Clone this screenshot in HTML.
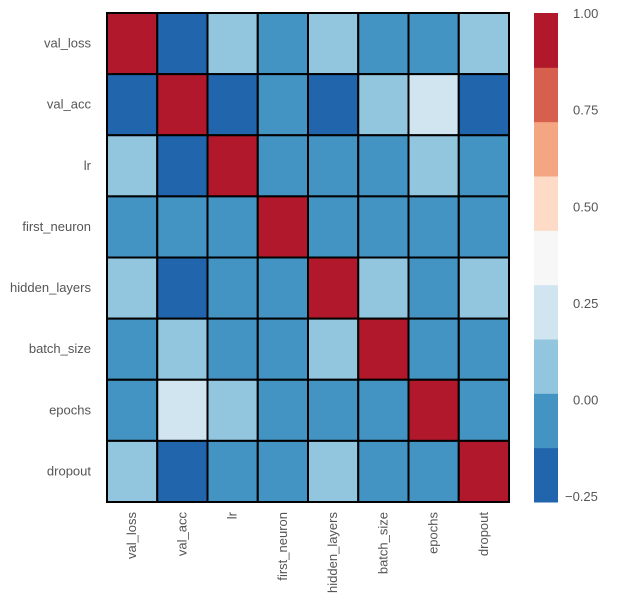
<!DOCTYPE html>
<html><head><meta charset="utf-8"><style>
body{margin:0;background:#fff;}
svg text{font-family:"Liberation Sans","DejaVu Sans",sans-serif;font-size:13px;fill:#555;}
</style></head><body>
<svg id="chart" width="617" height="601" xmlns="http://www.w3.org/2000/svg">
<g id="cells"></g>
<g id="labels"></g>
<g id="cbar"></g>
</svg>
<script>
const categories = ["val_loss","val_acc","lr","first_neuron","hidden_layers","batch_size","epochs","dropout"];
const row0 = [1.00,-0.20,0.08,-0.05,0.08,-0.05,-0.05,0.08];
const row1 = [-0.20,1.00,-0.20,-0.05,-0.20,0.08,0.22,-0.20];
const row2 = [0.08,-0.20,1.00,-0.05,-0.05,-0.05,0.08,-0.05];
const row3 = [-0.05,-0.05,-0.05,1.00,-0.05,-0.05,-0.05,-0.05];
const row4 = [0.08,-0.20,-0.05,-0.05,1.00,0.08,-0.05,0.08];
const row5 = [-0.05,0.08,-0.05,-0.05,0.08,1.00,-0.05,-0.05];
const row6 = [-0.05,0.22,0.08,-0.05,-0.05,-0.05,1.00,-0.05];
const row7 = [0.08,-0.20,-0.05,-0.05,0.08,-0.05,-0.05,1.00];
const matrix = [row0,row1,row2,row3,row4,row5,row6,row7];
const cbarTicks = [1.00,0.75,0.50,0.25,0.00,-0.25];
const palette = ["#2166ac","#4393c3","#92c5de","#d1e5f0","#f7f7f7","#fddbc7","#f4a582","#d6604d","#b2182b"];
const vmin = -0.2626, vmax = 1.0026;

const NS="http://www.w3.org/2000/svg";
const gx0=107, gx1=509, gy0=13, gy1=502;
const cw=(gx1-gx0)/categories.length, ch=(gy1-gy0)/categories.length;
function xPos(i){return gx0+i*cw;}
function yPos(i){return gy0+i*ch;}
function colorFor(v){let k=Math.floor((v-vmin)/(vmax-vmin)*palette.length);k=Math.max(0,Math.min(palette.length-1,k));return palette[k];}
const cbX=534, cbW=24;
function cbY(v){return gy0+(vmax-v)/(vmax-vmin)*(gy1-gy0);}
function mk(tag,attrs,parent){const e=document.createElementNS(NS,tag);for(const k in attrs)e.setAttribute(k,attrs[k]);parent.appendChild(e);return e;}

const cells=document.getElementById('cells');
matrix.forEach((row,r)=>row.forEach((v,c)=>{
  const rect=mk('rect',{x:xPos(c),y:yPos(r),width:cw,height:ch,fill:colorFor(v),stroke:'#000','stroke-width':2},cells);
  
  
}));
const labels=document.getElementById('labels');
categories.forEach((name,i)=>{
  const t=mk('text',{x:91,y:yPos(i)+ch/2+4,'text-anchor':'end'},labels);
  t.textContent=name;
  
  
  const cx=xPos(i)+cw/2+4;
  const t2=mk('text',{x:cx,y:512,'text-anchor':'end',transform:'rotate(-90 '+cx+' 512)'},labels);
  t2.textContent=name;
  
  
});
const cbar=document.getElementById('cbar');
palette.forEach((col,k)=>{
  const lo=vmin+k*(vmax-vmin)/palette.length, hi=vmin+(k+1)*(vmax-vmin)/palette.length;
  const r=mk('rect',{x:cbX,y:cbY(hi),width:cbW,height:cbY(lo)-cbY(hi)+0.5,fill:col},cbar);
  
  
});
cbarTicks.forEach(v=>{
  const t=mk('text',{x:573,y:cbY(v)+4},cbar);
  t.textContent=(v<0?'\u22120.25':v.toFixed(2));
  if(v<0)t.setAttribute('x',565);
  
  
});
</script>
</body></html>
